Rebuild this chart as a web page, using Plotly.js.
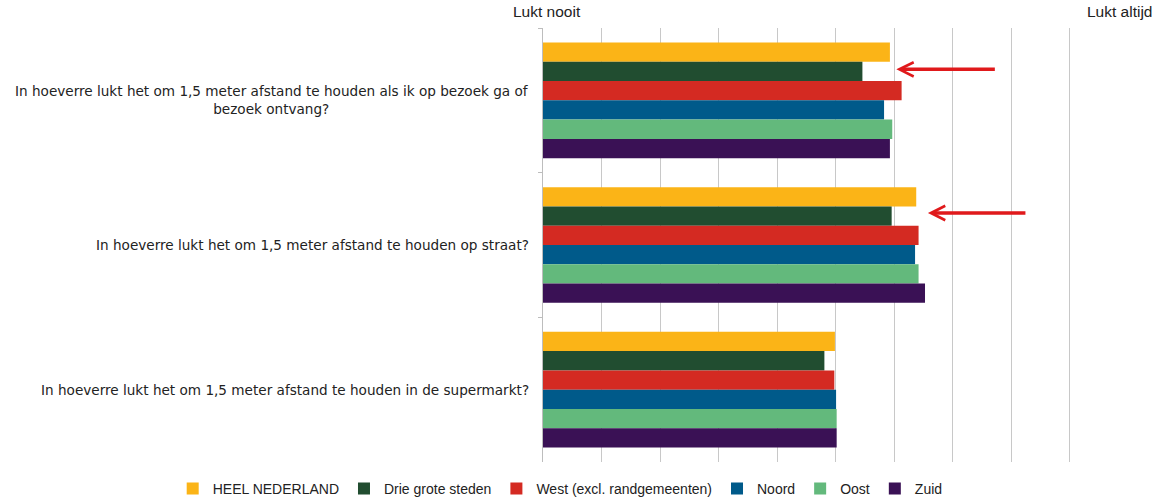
<!DOCTYPE html>
<html>
<head>
<meta charset="utf-8">
<script src="https://cdn.plot.ly/plotly-3.0.1.min.js"></script>
<style>html,body{margin:0;padding:0;background:#fff;}#chart{width:1157px;height:501px;}</style>
</head>
<body>
<div id="chart"></div>
<script>
const categories = [
  "In hoeverre lukt het om 1,5 meter afstand te houden als ik op bezoek ga of<br>bezoek ontvang?",
  "In hoeverre lukt het om 1,5 meter afstand te houden op straat?",
  "In hoeverre lukt het om 1,5 meter afstand te houden in de supermarkt?"
];
const seriesNames = ["HEEL NEDERLAND", "Drie grote steden", "West (excl. randgemeenten)", "Noord", "Oost", "Zuid"];
const seriesColors = ["#FBB417", "#214D30", "#D42A22", "#005A8A", "#63B97C", "#3A1155"];
const heelNederland = [5.93, 6.38, 4.99];
const drieGroteSteden = [5.46, 5.96, 4.81];
const west = [6.13, 6.42, 4.98];
const noord = [5.83, 6.36, 5.01];
const oost = [5.97, 6.42, 5.02];
const zuid = [5.93, 6.53, 5.02];
const seriesValues = [heelNederland, drieGroteSteden, west, noord, oost, zuid];
const axisMin = 0, axisMax = 10;
const leftLabel = "Lukt nooit", rightLabel = "Lukt altijd";

const traces = seriesNames.map((name, i) => ({
  type: "bar",
  orientation: "h",
  name: name,
  x: seriesValues[i],
  y: categories,
  marker: {color: seriesColors[i]},
  hoverinfo: "x+name"
}));

const annotations = categories.map(c => ({
  xref: "x", yref: "y", x: axisMin, y: c,
  xanchor: "right", yanchor: "middle", align: "center",
  xshift: -12, showarrow: false, text: c,
  font: {family: "DejaVu Sans, Verdana, sans-serif", size: 13.6, color: "#222"}
}));
annotations.push(
  {xref: "x", yref: "paper", x: axisMin, y: 1, yanchor: "bottom", xanchor: "center", yshift: 6, xshift: 4,
   showarrow: false, text: leftLabel, font: {family: "Liberation Sans, Arial, sans-serif", size: 15.5, color: "#222"}},
  {xref: "x", yref: "paper", x: axisMax, y: 1, yanchor: "bottom", xanchor: "center", yshift: 6, xshift: -9,
   showarrow: false, text: rightLabel, font: {family: "Liberation Sans, Arial, sans-serif", size: 15.5, color: "#222"}},
  {xref: "x", yref: "y", x: 6.04, y: categories[0], yshift: 31, text: "", showarrow: true,
   ax: 100, ay: 0, arrowhead: 5, arrowwidth: 3.5, arrowsize: 0.8, arrowcolor: "#E0191B"},
  {xref: "x", yref: "y", x: 6.58, y: categories[1], yshift: 32, text: "", showarrow: true,
   ax: 99, ay: 0, arrowhead: 5, arrowwidth: 3.5, arrowsize: 0.8, arrowcolor: "#E0191B"}
);

const layout = {
  width: 1157, height: 501,
  margin: {l: 543, r: 29, t: 28, b: 39, autoexpand: false},
  paper_bgcolor: "#fff", plot_bgcolor: "#fff",
  barmode: "group", bargap: 0.2, bargroupgap: 0,
  showlegend: true,
  legend: {orientation: "h", xref: "paper", yref: "paper", x: -0.633, y: -0.062,
           xanchor: "left", yanchor: "middle", itemwidth: 30, tracegroupgap: 0,
           font: {family: "Liberation Sans, Arial, sans-serif", size: 14, color: "#222"}},
  xaxis: {range: [axisMin, axisMax], dtick: 1, showgrid: true, gridcolor: "#C8C8C8", gridwidth: 1,
          zeroline: false, showticklabels: false, ticks: "", showline: false, fixedrange: true},
  yaxis: {autorange: "reversed", showticklabels: false, showline: true, linecolor: "#BDBDBD", linewidth: 1,
          ticks: "outside", tickson: "boundaries", ticklen: 4, tickcolor: "#BDBDBD", showgrid: false,
          fixedrange: true},
  annotations: annotations
};

Plotly.newPlot("chart", traces, layout, {displayModeBar: false, staticPlot: true});
</script>
</body>
</html>
